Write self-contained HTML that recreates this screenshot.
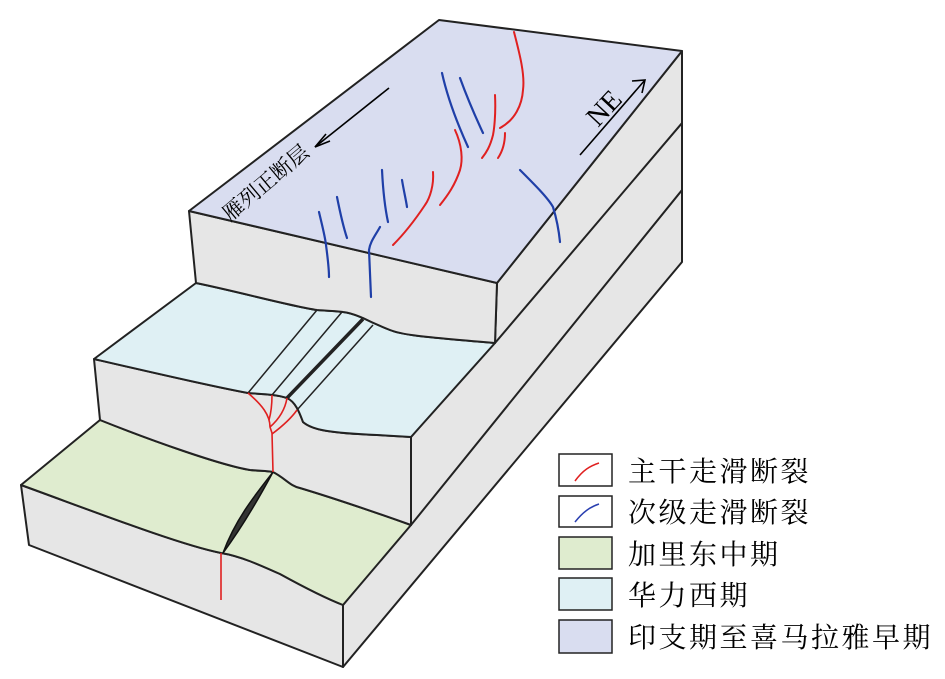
<!DOCTYPE html>
<html><head><meta charset="utf-8"><style>
html,body{margin:0;padding:0;background:#fff;width:945px;height:679px;overflow:hidden}
svg{display:block}
.t{font-family:"Liberation Serif","Noto Serif CJK SC",serif;fill:#000}
</style></head><body>
<svg width="945" height="679" viewBox="0 0 945 679" xmlns="http://www.w3.org/2000/svg">
<g stroke="#222" stroke-width="2" stroke-linejoin="round" fill="#e6e6e6">
<path d="M343,605 L682,190 L682,262 L343,667 Z"/>
<path d="M21,485 C90,510 180,545 221,553 C240,556 260,565 280,574 C300,585 325,598 343,605 L343,667 L29,545 Z"/>
<path d="M21,485 L100,420 C150,440 220,465 250,470 C262,471 268,471 273,472 C285,478 290,486 300,488 C340,500 380,514 411,525 L343,605 C325,598 300,585 280,574 C260,565 240,556 221,553 C180,545 90,510 21,485 Z" fill="#dfeccf"/>
<path d="M411,437 L682,123 L682,190 L411,525 Z"/>
<path d="M94,359 C150,372 210,386 248,393 C260,394 275,394 287,398 C296,402 300,414 303,422 C312,430 330,433 377,435 L411,437 L411,525 C380,514 340,500 300,488 C290,486 285,478 273,472 C268,471 262,471 250,470 C220,465 150,440 100,420 Z"/>
<path d="M94,359 L196,283 C240,292 290,306 317,310 C330,311 338,311 343,312 C352,313 358,316 363,318 C375,324 385,328 390,330 C400,334 410,336 495,343 L411,437 L377,435 C330,433 312,430 303,422 C300,414 296,402 287,398 C275,394 260,394 248,393 C210,386 150,372 94,359 Z" fill="#dff0f4"/>
<path d="M497,283 L682,51 L682,123 L495,343 Z"/>
<path d="M189,211 L497,283 L495,343 C410,336 400,334 390,330 C385,328 375,324 363,318 C358,316 352,313 343,312 C338,311 330,311 317,310 C290,306 240,292 196,283 Z"/>
<path d="M189,211 L439,20 L682,51 L497,283 Z" fill="#d9ddf0"/>
</g>
<g stroke="#222" fill="none">
<path d="M317,310 L248,393" stroke-width="1.5"/>
<path d="M342,312 L272,395" stroke-width="1.5"/>
<path d="M363,319 L287,398" stroke-width="3.5"/>
<path d="M373,325 L297,410" stroke-width="1.5"/>
</g>
<path d="M273,472 C255,495 235,520 223,553 C240,530 258,500 273,472 Z" fill="#333" stroke="#111" stroke-width="1.5"/>
<g stroke="#e02020" stroke-width="1.6" fill="none">
<path d="M248,393 C262,405 270,415 270,427 L272,433 L273,472"/>
<path d="M272,395 C272,405 271,413 269,420"/>
<path d="M287,398 C285,410 278,420 270,427"/>
<path d="M297,410 C290,420 280,428 272,434"/>
<path d="M221,553 L221,600"/>
</g>
<g stroke="#e02020" stroke-width="2" fill="none" stroke-linecap="round">
<path d="M514,32 C520,55 525,75 523,90 C522,105 515,120 500,128"/>
<path d="M495,95 C496,115 494,130 493,135 C490,147 486,153 482,158"/>
<path d="M505,133 C505,143 502,152 498,158"/>
<path d="M455,130 C462,145 463,160 460,170 C455,185 448,195 440,205"/>
<path d="M433,172 C434,185 430,198 425,205 C415,220 403,235 393,245"/>
</g>
<g stroke="#1f3fa8" stroke-width="2.2" fill="none" stroke-linecap="round">
<path d="M442,73 C448,100 458,125 468,147"/>
<path d="M460,78 C468,100 476,118 483,133"/>
<path d="M382,170 C383,190 385,208 388,222"/>
<path d="M402,180 C404,192 406,200 407,207"/>
<path d="M337,197 C340,212 343,226 347,238"/>
<path d="M319,212 C322,225 325,236 326,245 C328,260 329,270 329,277"/>
<path d="M380,227 C375,236 370,242 369,250 L371,297"/>
<path d="M520,170 C535,185 548,198 553,207 C557,220 559,232 560,242"/>
</g>
<g stroke="#000" stroke-width="1.6" fill="none">
<path d="M389,88 L315,147"/>
<path d="M326,134 L315,147 L330,141"/>
<path d="M580,155 L645,80"/>
<path d="M632,81 L645,80 L642,93"/>
</g>
<text class="t" font-size="28" transform="translate(598,128) rotate(-47)">NE</text>
<text class="t" font-size="21" transform="translate(230,222) rotate(-40)">雁列正断层</text>
<g stroke="#222" stroke-width="1.5">
<rect x="559" y="454" width="53" height="32" fill="#fff"/>
<rect x="559" y="496" width="53" height="31" fill="#fff"/>
<rect x="559" y="537" width="53" height="32" fill="#dfeccf"/>
<rect x="559" y="578" width="53" height="32" fill="#dff0f4"/>
<rect x="559" y="620" width="53" height="33" fill="#d9ddf0"/>
</g>
<path d="M575,481 C583,470 590,466 599,463" stroke="#e02020" stroke-width="1.5" fill="none"/>
<path d="M575,522 C583,512 590,507 599,504" stroke="#2a3fb0" stroke-width="1.5" fill="none"/>
<g class="t" font-size="28" letter-spacing="2.5">
<text x="628" y="481">主干走滑断裂</text>
<text x="628" y="522">次级走滑断裂</text>
<text x="628" y="564">加里东中期</text>
<text x="628" y="605">华力西期</text>
<text x="628" y="647">印支期至喜马拉雅早期</text>
</g>
</svg>
</body></html>
